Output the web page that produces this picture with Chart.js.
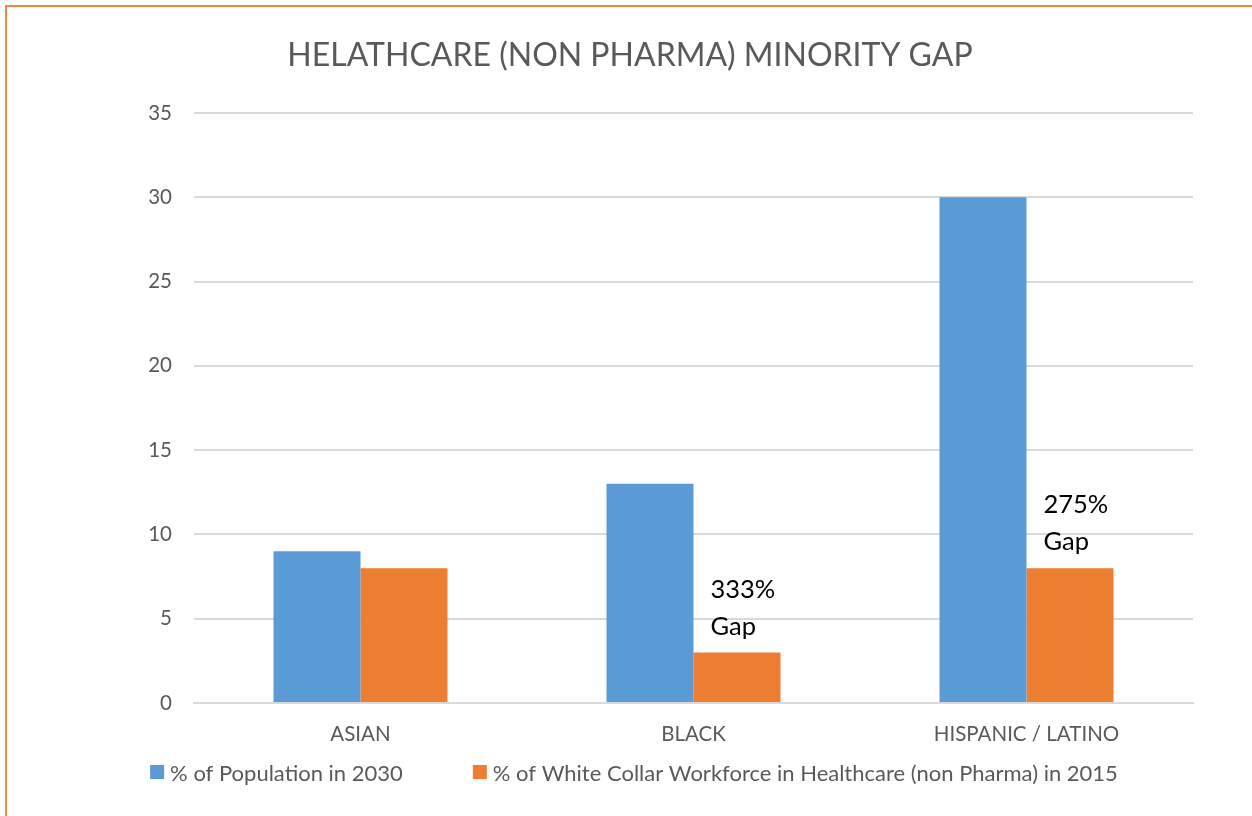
<!DOCTYPE html>
<html>
<head>
<meta charset="utf-8">
<script src="https://cdn.jsdelivr.net/npm/chart.js@4"></script>
<style>
html,body{margin:0;padding:0;background:#fff;}
#wrap{position:relative;width:1252px;height:816px;}
#frame{position:absolute;left:5px;top:5px;width:1300px;height:900px;border-left:2px solid #f0883e;border-top:2px solid #f0883e;pointer-events:none;}
canvas{position:absolute;left:0;top:0;}
</style>
</head>
<body>
<div id="wrap">
<canvas id="c" width="1252" height="816"></canvas>
<div id="frame"></div>
</div>
<script>
const categories = ["ASIAN", "BLACK", "HISPANIC / LATINO"];
const populationPct = [9, 13, 30];
const workforcePct = [8, 3, 8];
const gapLabels = ["", "333%\nGap", "275%\nGap"];
const seriesNames = ["% of Population in 2030", "% of White Collar Workforce in Healthcare (non Pharma) in 2015"];
const seriesColors = ["#5b9bd5", "#ed7d31"];
const chartTitle = "HELATHCARE (NON PHARMA) MINORITY GAP";
const yTicks = [0, 5, 10, 15, 20, 25, 30, 35];

const FONT = "Lato, 'Open Sans', sans-serif";

const decorPlugin = {
  id: 'decorPlugin',
  afterDraw(chart) {
    const ctx = chart.ctx;
    const W = chart.width;
    ctx.save();
    // title
    ctx.fillStyle = '#595959';
    ctx.font = '32px ' + FONT;
    ctx.textAlign = 'center';
    ctx.textBaseline = 'middle';
    ctx.fillText(chartTitle, W / 2 + 4, 56);
    // legend
    ctx.font = '22px ' + FONT;
    ctx.textAlign = 'left';
    const box = 14, gapBT = 6, gapItems = 70;
    const widths = chart.data.datasets.map(d => ctx.measureText(d.label).width);
    let total = 0;
    widths.forEach((w, i) => { total += box + gapBT + w + (i ? gapItems : 0); });
    let x = W / 2 + 8 - total / 2;
    const y = chart.chartArea.bottom + 69;
    chart.data.datasets.forEach((d, i) => {
      ctx.fillStyle = d.backgroundColor;
      ctx.fillRect(x, y - box / 2, box, box);
      ctx.fillStyle = '#595959';
      ctx.fillText(d.label, x + box + gapBT, y + 2);
      x += box + gapBT + widths[i] + gapItems;
    });
    ctx.restore();
  },
  afterDatasetsDraw(chart) {
    const ctx = chart.ctx;
    const meta = chart.getDatasetMeta(1);
    ctx.save();
    ctx.fillStyle = '#000';
    ctx.font = '25.5px ' + FONT;
    ctx.textAlign = 'left';
    ctx.textBaseline = 'middle';
    meta.data.forEach((bar, i) => {
      const txt = gapLabels[i];
      if (!txt) return;
      const lines = txt.split('\n');
      const x = bar.x - bar.width / 2 + 17;
      lines.forEach((ln, j) => {
        ctx.fillText(ln, x, bar.y - 63 + j * 37);
      });
    });
    ctx.restore();
  }
};

new Chart(document.getElementById('c'), {
  type: 'bar',
  data: {
    labels: categories,
    datasets: [
      { label: seriesNames[0], data: populationPct, backgroundColor: seriesColors[0], borderWidth: 0 },
      { label: seriesNames[1], data: workforcePct, backgroundColor: seriesColors[1], borderWidth: 0 }
    ]
  },
  options: {
    responsive: false,
    animation: false,
    devicePixelRatio: 1,
    layout: { padding: { left: 0, right: 59, top: 113, bottom: 63 } },
    datasets: { bar: { categoryPercentage: 0.5225, barPercentage: 1 } },
    plugins: {
      title: { display: false },
      legend: { display: false },
      tooltip: { enabled: false }
    },
    scales: {
      x: {
        afterFit(scale) { scale.height = 50; },
        grid: { display: false, drawTicks: false },
        border: { display: true, color: '#d9d9d9', width: 2 },
        ticks: { color: '#595959', font: { family: FONT, size: 20.5 }, padding: 19 }
      },
      y: {
        min: 0, max: 35,
        afterFit(scale) { scale.width = 194; },
        afterBuildTicks(scale) { scale.ticks = yTicks.map(v => ({ value: v })); },
        grid: { color: '#d9d9d9', lineWidth: 2, drawTicks: false },
        border: { display: false },
        ticks: { color: '#595959', font: { family: FONT, size: 20.5 }, padding: 22 }
      }
    }
  },
  plugins: [decorPlugin]
});
</script>
</body>
</html>
